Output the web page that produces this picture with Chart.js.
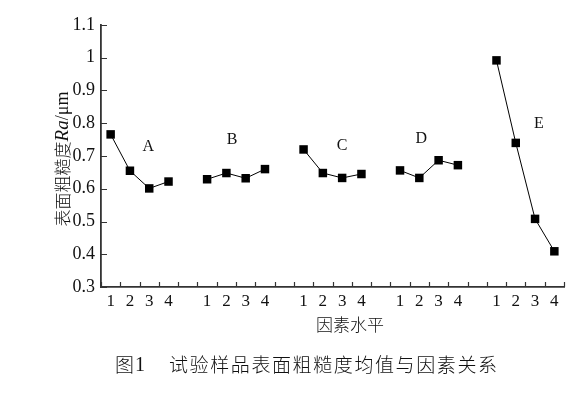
<!DOCTYPE html>
<html>
<head>
<meta charset="utf-8">
<script src="https://cdn.jsdelivr.net/npm/chart.js@4"></script>
<style>
  body { margin: 0; background: #fff; }
  canvas { display: block; }
</style>
</head>
<body>
<canvas id="grafico" width="581" height="400"></canvas>
<script>
// datos
const factores = ['A', 'B', 'C', 'D', 'E'];
const niveles = ['1', '2', '3', '4'];
const valoresA = [0.766, 0.655, 0.601, 0.622];
const valoresB = [0.629, 0.648, 0.632, 0.660];
const valoresC = [0.720, 0.648, 0.633, 0.645];
const valoresD = [0.656, 0.633, 0.687, 0.672];
const valoresE = [0.992, 0.740, 0.508, 0.409];
const ticksY = [0.3, 0.4, 0.5, 0.6, 0.7, 0.8, 0.9, 1.0, 1.1];
// posicion de las letras (en unidades del eje)
const letraX = [2.45, 6.8, 12.5, 16.6, 22.7];
const letraY = [0.728, 0.749, 0.731, 0.754, 0.798];

const series = [valoresA, valoresB, valoresC, valoresD, valoresE];
const ANCHO_GRUPO = 5;
const posNivel = (g, i) => g * ANCHO_GRUPO + i + 0.5;
const posTicksX = [];
factores.forEach((f, g) => niveles.forEach((n, i) => posTicksX.push(posNivel(g, i))));

const SERIF = '"Liberation Serif", "Noto Sans CJK SC", serif';
const CJK = '"Noto Sans CJK SC", sans-serif';
const colorEje = '#333';

const datasets = series.map((vals, g) => ({
    label: factores[g],
    data: vals.map((v, i) => ({ x: posNivel(g, i), y: v })),
    borderColor: '#000',
    backgroundColor: '#000',
    borderWidth: 1,
    pointStyle: 'rect',
    pointRadius: 6,
    pointBackgroundColor: '#000',
    pointBorderWidth: 0,
    tension: 0
}));

// fondo blanco, marcas hacia adentro, letras, titulos
const extras = {
    id: 'extras',
    beforeDraw(chart) {
        const ctx = chart.ctx;
        ctx.save();
        ctx.fillStyle = '#fff';
        ctx.fillRect(0, 0, chart.width, chart.height);
        ctx.restore();
    },
    afterDraw(chart) {
        const ctx = chart.ctx;
        const sx = chart.scales.x, sy = chart.scales.y;
        const area = chart.chartArea;
        ctx.save();
        ctx.strokeStyle = colorEje;
        ctx.lineWidth = 1.2;
        ctx.beginPath();
        for (let v = 0; v <= sx.max; v++) {
            const px = Math.round(sx.getPixelForValue(v)) + 0.5;
            ctx.moveTo(px, area.bottom);
            ctx.lineTo(px, area.bottom - 5);
        }
        ticksY.forEach(v => {
            const py = Math.round(sy.getPixelForValue(v)) + 0.5;
            ctx.moveTo(area.left, py);
            ctx.lineTo(area.left + 6, py);
        });
        ctx.stroke();

        // letras de factores
        ctx.fillStyle = '#111';
        ctx.font = '16px ' + SERIF;
        ctx.textAlign = 'center';
        ctx.textBaseline = 'middle';
        factores.forEach((f, g) => {
            ctx.fillText(f, sx.getPixelForValue(letraX[g]), sy.getPixelForValue(letraY[g]));
        });

        // titulo eje x
        ctx.font = '300 17px ' + CJK;
        ctx.fillText('因素水平', 350, 325);

        // pie de figura
        ctx.font = '300 19px ' + CJK;
        ctx.textAlign = 'left';
        ctx.fillText('图', 115, 365);
        ctx.font = '20px ' + SERIF;
        ctx.fillText('1', 135, 366);
        ctx.font = '300 19px ' + CJK;
        ctx.letterSpacing = '1.6px';
        ctx.fillText('试验样品表面粗糙度均值与因素关系', 169, 365);
        ctx.letterSpacing = '0px';

        // titulo eje y con Ra en cursiva
        const partes = [
            { t: '表面粗糙度', f: '300 17px ' + CJK },
            { t: 'Ra', f: 'italic 19px ' + SERIF },
            { t: '/μm', f: '18px ' + SERIF }
        ];
        let total = 0;
        partes.forEach(p => { ctx.font = p.f; p.w = ctx.measureText(p.t).width; total += p.w; });
        ctx.translate(62, 159);
        ctx.rotate(-Math.PI / 2);
        let x0 = -total / 2;
        partes.forEach(p => {
            ctx.font = p.f;
            ctx.fillText(p.t, x0, 1);
            x0 += p.w;
        });
        ctx.restore();
    }
};

new Chart(document.getElementById('grafico'), {
    type: 'line',
    data: { datasets },
    options: {
        responsive: false,
        animation: false,
        layout: { padding: { left: 0, top: 25, right: 17, bottom: 0 } },
        plugins: { legend: { display: false }, tooltip: { enabled: false } },
        scales: {
            x: {
                type: 'linear',
                min: 0,
                max: 24,
                afterBuildTicks: s => { s.ticks = posTicksX.map(v => ({ value: v })); },
                afterFit: s => { s.height = 113; },
                ticks: {
                    autoSkip: false,
                    maxRotation: 0,
                    padding: 4,
                    color: '#111',
                    font: { family: SERIF, size: 17 },
                    callback: v => niveles[Math.floor(v) % ANCHO_GRUPO]
                },
                grid: { display: false, drawTicks: false },
                border: { color: colorEje, width: 1.8 }
            },
            y: {
                min: 0.3,
                max: 1.1,
                afterBuildTicks: s => { s.ticks = ticksY.map(v => ({ value: v })); },
                afterFit: s => { s.width = 101; },
                ticks: {
                    padding: 6,
                    color: '#111',
                    font: { family: SERIF, size: 18 },
                    callback: v => String(Math.round(v * 10) / 10)
                },
                grid: { display: false, drawTicks: false },
                border: { color: colorEje, width: 1.8 }
            }
        }
    },
    plugins: [extras]
});
</script>
</body>
</html>
